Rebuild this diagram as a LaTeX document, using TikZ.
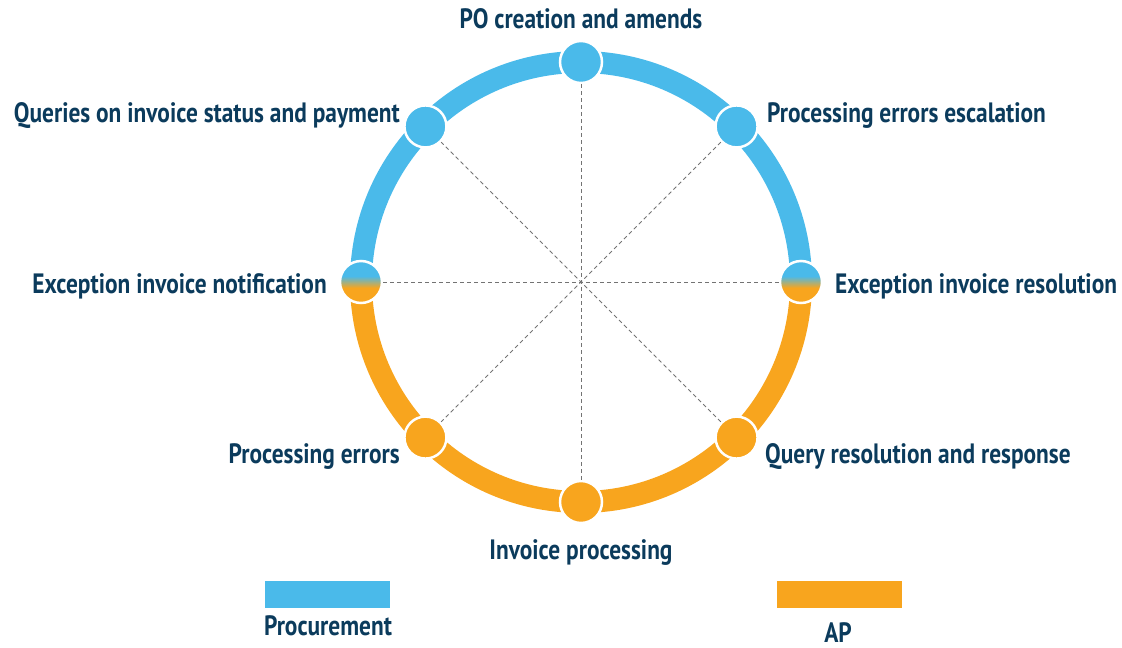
\documentclass[tikz,border=0pt]{standalone}
\usepackage{fontspec}
\setmainfont{PT Sans}[FakeStretch=0.835]
\usetikzlibrary{calc}
\definecolor{procblue}{HTML}{4ABAEA}
\definecolor{aporange}{HTML}{F8A51E}
\definecolor{labelnavy}{HTML}{0B3B5C}
% orange below, blue above, short blend across the middle
\pgfdeclareverticalshading{splitshade}{100bp}{color(0bp)=(aporange); color(43bp)=(aporange); color(57bp)=(procblue); color(100bp)=(procblue)}
\begin{document}
\begin{tikzpicture}[x=1pt,y=1pt,
  stage/.style={circle, draw=white, line width=2.5pt, minimum size=42pt, inner sep=0pt},
  lbl/.style={text=labelnavy, font=\bfseries\fontsize{28}{32}\selectfont, inner sep=0pt},
  spoke/.style={draw=black!55, line width=0.8pt, dash pattern=on 4pt off 3pt},
  legendbar/.style={inner sep=0pt, minimum width=125pt, minimum height=27pt}]
\useasboundingbox (0,-648) rectangle (1122,0);
\coordinate (c) at (581,-282);
% ring: upper half procurement, lower half AP
\draw[procblue, line width=22pt] ($(c)+(0:220)$) arc (0:180:220);
\draw[aporange, line width=22pt] ($(c)+(180:220)$) arc (180:360:220);
% stages around the ring
\node[stage, fill=procblue] (n0) at ($(c)+(90:220)$) {};
\node[stage, fill=procblue] (n1) at ($(c)+(45:220)$) {};
\node[stage, shading=splitshade] (n2) at ($(c)+(0:220)$) {};
\node[stage, fill=aporange] (n3) at ($(c)+(-45:220)$) {};
\node[stage, fill=aporange] (n4) at ($(c)+(-90:220)$) {};
\node[stage, fill=aporange] (n5) at ($(c)+(-135:220)$) {};
\node[stage, shading=splitshade] (n6) at ($(c)+(180:220)$) {};
\node[stage, fill=procblue] (n7) at ($(c)+(135:220)$) {};
% dashed diameters
\draw[spoke] (n0) -- (n4);
\draw[spoke] (n1) -- (n5);
\draw[spoke] (n2) -- (n6);
\draw[spoke] (n3) -- (n7);
% stage labels
\node[lbl, anchor=base] (t0) at (581,-28) {PO creation and amends};
\node[lbl, anchor=base west] (t1) at (767,-122) {Processing errors escalation};
\node[lbl, anchor=base west] (t2) at (835,-293) {Exception invoice resolution};
\node[lbl, anchor=base west] (t3) at (765,-463) {Query resolution and response};
\node[lbl, anchor=base] (t4) at (581,-559) {Invoice processing};
\node[lbl, anchor=base east] (t5) at (400,-463) {Processing errors};
\node[lbl, anchor=base east] (t6) at (327,-293) {Exception invoice notification};
\node[lbl, anchor=base east] (t7) at (400,-122) {Queries on invoice status and payment};
% legend
\node[legendbar, fill=procblue, anchor=north west] (k1) at (265,-581) {};
\node[lbl, anchor=base] (k1t) at (328,-635) {Procurement};
\node[legendbar, fill=aporange, anchor=north west] (k2) at (777,-581) {};
\node[lbl, anchor=base] (k2t) at (838,-642) {AP};
\end{tikzpicture}
\end{document}
